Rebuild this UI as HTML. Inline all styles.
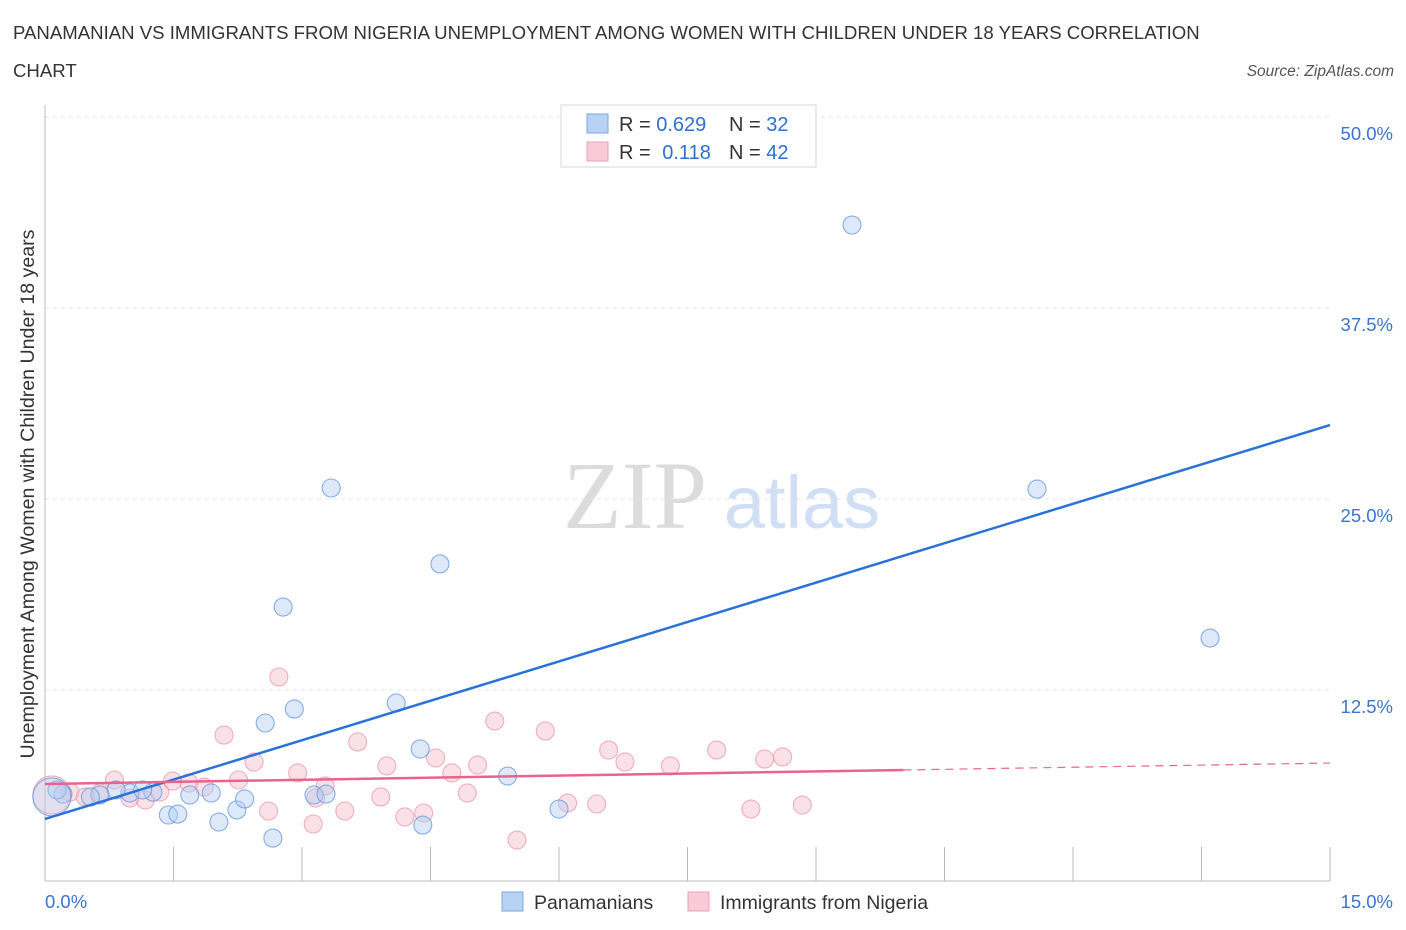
<!DOCTYPE html>
<html><head><meta charset="utf-8"><style>
body{margin:0;background:#fff;font-family:"Liberation Sans",sans-serif}
svg{display:block}
</style></head><body>
<svg id="chart" width="1406" height="930" xmlns="http://www.w3.org/2000/svg">
<text x="13" y="39" font-size="18.6" fill="#333">PANAMANIAN VS IMMIGRANTS FROM NIGERIA UNEMPLOYMENT AMONG WOMEN WITH CHILDREN UNDER 18 YEARS CORRELATION</text>
<text x="13" y="77" font-size="18.6" fill="#333">CHART</text>
<text x="1394" y="76" font-size="15.5" fill="#555" font-style="italic" text-anchor="end">Source: ZipAtlas.com</text>
<text x="635" y="528" font-size="96" fill="#dcdcdc" font-family="Liberation Serif,serif" text-anchor="middle">ZIP</text>
<text x="802" y="528" font-size="74" fill="#d0dff3" text-anchor="middle">atlas</text>
<g id="grid"></g>
<g id="axes"></g>
<g id="pts"></g>
<g id="lines"></g>
<text transform="translate(34,494) rotate(-90)" font-size="19.6" fill="#333" text-anchor="middle">Unemployment Among Women with Children Under 18 years</text>
<g>
<rect x="561" y="105" width="255" height="62" fill="#fff" stroke="#d6d6d6"/>
<rect x="587" y="114" width="21" height="19" fill="#b8d2f4" stroke="#7aa6e0"/>
<rect x="587" y="142" width="21" height="19" fill="#f9cad8" stroke="#eba0b8"/>
<text x="619" y="131" font-size="20" fill="#333">R = <tspan fill="#2f6fd0">0.629</tspan></text>
<text x="729" y="131" font-size="20" fill="#333">N = <tspan fill="#2f6fd0">32</tspan></text>
<text x="619" y="159" font-size="20" fill="#333">R = <tspan fill="#2f6fd0" dx="6">0.118</tspan></text>
<text x="729" y="159" font-size="20" fill="#333">N = <tspan fill="#2f6fd0">42</tspan></text>
</g>
<g>
<rect x="502" y="892" width="21" height="19" fill="#b8d2f4" stroke="#7aa6e0"/>
<text x="534" y="909" font-size="19.5" fill="#333">Panamanians</text>
<rect x="688" y="892" width="21" height="19" fill="#f9cad8" stroke="#eba0b8"/>
<text x="720" y="909" font-size="19.5" fill="#333">Immigrants from Nigeria</text>
</g>
<text x="45" y="908" font-size="18.5" fill="#3a74d0">0.0%</text>
<text x="1393" y="908" font-size="18.5" fill="#3a74d0" text-anchor="end">15.0%</text>
</svg>
<script>
const yTicks=[50,37.5,25,12.5];
const yTickLabels=["50.0%","37.5%","25.0%","12.5%"];
const blueX=[9.42,11.58,3.34,4.61,2.78,13.60,2.57,2.91,4.10,4.38,5.40,6.00,4.41,2.66,2.03,2.24,2.33,1.94,1.69,1.44,1.55,1.26,0.99,0.83,0.64,0.21,0.14,0.08,3.14,3.28,0.53,1.14];
const blueY=[42.93,25.65,25.72,20.75,17.93,15.90,10.34,11.26,11.65,8.64,6.87,4.71,3.66,2.81,3.86,4.65,5.37,5.76,5.63,4.32,4.38,5.82,5.76,5.96,5.63,5.69,5.96,5.50,5.63,5.69,5.50,5.96];
const pinkX=[2.73,2.09,3.65,5.25,5.84,6.58,7.84,8.61,8.40,6.77,7.30,5.05,4.56,3.99,4.75,2.95,2.44,2.26,1.68,1.49,0.81,1.86,3.27,3.92,4.93,6.44,6.10,8.84,8.24,3.16,3.50,2.61,4.20,4.42,3.13,5.51,1.17,1.34,0.64,0.99,0.29,0.47,0.08];
const pinkY=[13.35,9.55,9.10,10.47,9.82,8.57,8.57,8.12,7.98,7.79,7.53,7.59,8.05,7.53,7.07,7.07,7.79,6.61,6.41,6.54,6.61,6.15,6.22,5.50,5.76,5.04,5.10,4.97,4.71,5.43,4.58,4.58,4.19,4.45,3.73,2.68,5.30,5.82,5.76,5.43,5.82,5.50,5.63];
const blueTrend=[4.06,29.84];
const pinkTrend=[6.35,7.72];
const pinkSolidEnd=10.02;
const X0=45,X1=1330,Y0=881,Y50=117;
const sx=v=>X0+(v/15)*(X1-X0);
const sy=v=>Y0-(v/50)*(Y0-Y50);
const NS="http://www.w3.org/2000/svg";
function mk(tag,attrs,parent){const e=document.createElementNS(NS,tag);for(const k in attrs)e.setAttribute(k,attrs[k]);document.getElementById(parent).appendChild(e);return e;}
yTicks.forEach((t,i)=>{
 const g=mk('line',{x1:X0,x2:X1,y1:sy(t),y2:sy(t),stroke:'#e3e3e3','stroke-dasharray':'4,4'},'grid');
 
 
 const tx=mk('text',{x:1393,y:sy(t)+23,'font-size':18.5,fill:'#3a74d0','text-anchor':'end'},'grid');
 tx.textContent=yTickLabels[i];
 
 
});
const ya=mk('line',{x1:X0,x2:X0,y1:105,y2:Y0,stroke:'#bbb'},'axes');


const xa=mk('line',{x1:X0,x2:X1,y1:Y0,y2:Y0,stroke:'#bbb'},'axes');


for(let i=1;i<=10;i++){
 const tk=mk('line',{x1:sx(i*1.5),x2:sx(i*1.5),y1:Y0,y2:Y0-34,stroke:'#bbb'},'axes');
 
 
}
function dots(xs,ys,fill,stroke,name){
 xs.forEach((x,i)=>{
  const big=(x<0.1);
  const c=mk('circle',{cx:sx(x),cy:sy(ys[i]),r:big?19:9,fill:fill,'fill-opacity':big?0.35:0.45,stroke:stroke,'stroke-opacity':0.8,'stroke-width':1.1},'pts');
  
  
 });
}
dots(pinkX,pinkY,'#f5bccd','#eb9bb4','point-nigeria');
dots(blueX,blueY,'#b3cef2','#6b9be0','point-panamanian');
const bl=mk('line',{x1:sx(0),y1:sy(blueTrend[0]),x2:sx(15),y2:sy(blueTrend[1]),stroke:'#2a72d8','stroke-width':2.5},'lines');


const pm=pinkTrend[0]+(pinkTrend[1]-pinkTrend[0])*pinkSolidEnd/15;
const pl=mk('line',{x1:sx(0),y1:sy(pinkTrend[0]),x2:sx(pinkSolidEnd),y2:sy(pm),stroke:'#e8648c','stroke-width':2.5},'lines');


const pd=mk('line',{x1:sx(pinkSolidEnd),y1:sy(pm),x2:sx(15),y2:sy(pinkTrend[1]),stroke:'#e8648c','stroke-width':1.2,'stroke-dasharray':'8,6'},'lines');


</script>
</body></html>
